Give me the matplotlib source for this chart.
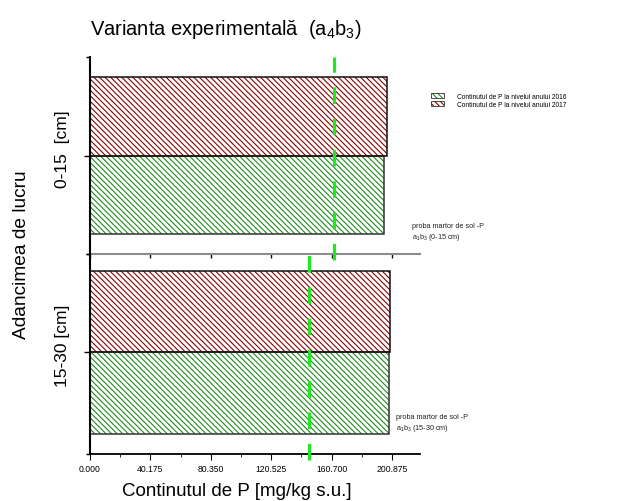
import numpy as np
import matplotlib
matplotlib.use('Agg')
import matplotlib.pyplot as plt
import matplotlib.transforms as mtransforms
from matplotlib.patches import Rectangle
from matplotlib.ticker import MultipleLocator

plt.rcParams.update({
    'font.family': ['Liberation Sans', 'DejaVu Sans'],
    'mathtext.fontset': 'custom',
    'mathtext.rm': 'Liberation Sans',
    'mathtext.it': 'Liberation Sans',
    'mathtext.default': 'regular',
    'hatch.linewidth': 0.8,
})

# P content [mg/kg s.u.] per depth layer
depths = ['0-15  [cm]', '15-30 [cm]']
p_2016 = [195.3, 198.6]
p_2017 = [197.5, 199.3]
p_control = [162.0, 145.9]
control_notes = ['a$_1$b$_3$ (0-15 cm)', 'a$_1$b$_3$ (15-30 cm)']
xticks = [0.000, 40.175, 80.350, 120.525, 160.700, 200.875]

c2016 = '#1E8A1E'
c2017 = '#8B0000'
cline = '#22E622'
hatch = '\\' * 6

fig = plt.figure(figsize=(6.24, 5.02), dpi=100)
W, H = 624, 502

def fbox(x0, y0, x1, y1):
    return [x0 / W, 1 - y1 / H, (x1 - x0) / W, (y1 - y0) / H]

ax_top = fig.add_axes(fbox(90, 58, 420, 255))
ax_bot = fig.add_axes(fbox(90, 255, 420, 455))
axes = [ax_top, ax_bot]
ylims = [(-1.25, 1.25), (-1.25, 1.21)]
note_pos = [(214.2, -0.975), (203.5, -0.873)]

for i, ax in enumerate(axes):
    for y, val, col, ec in [(-0.5, p_2016[i], c2016, '#333333'),
                            (0.5, p_2017[i], c2017, '#111111')]:
        ax.barh(y, val, height=1.0, color='none', edgecolor=col,
                hatch=hatch, linewidth=0)
        ax.barh(y, val, height=1.0, fill=False, edgecolor=ec,
                linewidth=1.1)
    ax.axvline(p_control[i], ymin=-0.03, ymax=1.0, color=cline,
               linewidth=2.3, dashes=(5.2, 4.6), clip_on=False, zorder=5)
    ax.set_xlim(0, 219.5)
    ax.set_ylim(*ylims[i])
    ax.set_xticks(xticks)
    ax.spines['top'].set_visible(False)
    ax.spines['right'].set_visible(False)
    ax.spines['left'].set_linewidth(1.5)
    ax.set_yticks([0])
    ax.set_yticklabels([])
    ax.set_yticks(list(ylims[i]), minor=True)
    ax.tick_params(axis='y', which='major', length=4, width=1)
    ax.tick_params(axis='y', which='minor', length=3, width=1)
    ax.patch.set_alpha(0)

    # depth label beside the layer tick
    trans = mtransforms.blended_transform_factory(ax.transAxes, ax.transData)
    ax.text(-0.082, 0.09, depths[i], transform=trans, rotation=90,
            fontsize=12.5, ha='center', va='center')

    ax.text(note_pos[i][0], note_pos[i][1],
            'proba martor de sol -P\n' + control_notes[i],
            fontsize=5.2, ha='left', va='center', linespacing=1.25,
            color='#222222')

# top panel: grey baseline, no tick labels
ax_top.spines['bottom'].set_color('#8c8c8c')
ax_top.spines['bottom'].set_linewidth(1.5)
ax_top.tick_params(axis='x', length=3, width=1, labelbottom=False)

# bottom panel: value axis
ax_bot.spines['bottom'].set_linewidth(1.3)
ax_bot.set_xticklabels([f'{v:.3f}' for v in xticks], fontsize=6.2)
ax_bot.xaxis.set_minor_locator(MultipleLocator(xticks[1] / 2))
ax_bot.tick_params(axis='x', which='major', length=4, width=0.8, pad=3)
ax_bot.tick_params(axis='x', which='minor', length=2, width=0.6)

fig.text(90 / W, 1 - 30 / H, 'Varianta experimentală  (a$_4$b$_3$)',
         fontsize=14.5, ha='left', va='center')
fig.text(22 / W, 1 - 255 / H, 'Adancimea de lucru', fontsize=13.8,
         rotation=90, ha='center', va='center')
fig.text(237 / W, 1 - 492 / H, 'Continutul de P [mg/kg s.u.]', fontsize=13.5,
         ha='center', va='center')

# legend: hatched swatch with dark outline
handles = []
for col in [c2016, c2017]:
    h1 = Rectangle((0, 0), 1, 1, facecolor='none', edgecolor=col,
                   hatch=hatch, linewidth=0)
    h2 = Rectangle((0, 0), 1, 1, fill=False, edgecolor='#333333',
                   linewidth=0.6)
    handles.append((h1, h2))
fig.legend(handles, ['Continutul de P la nivelul anului 2016',
                     'Continutul de P la nivelul anului 2017'],
           loc='upper left', bbox_to_anchor=(426 / W, 1 - 89 / H),
           frameon=False, fontsize=4.8, handlelength=2.0, handleheight=0.9,
           handletextpad=1.9, labelspacing=0.15, borderpad=0.2)

fig.savefig('out.png', dpi=100)
